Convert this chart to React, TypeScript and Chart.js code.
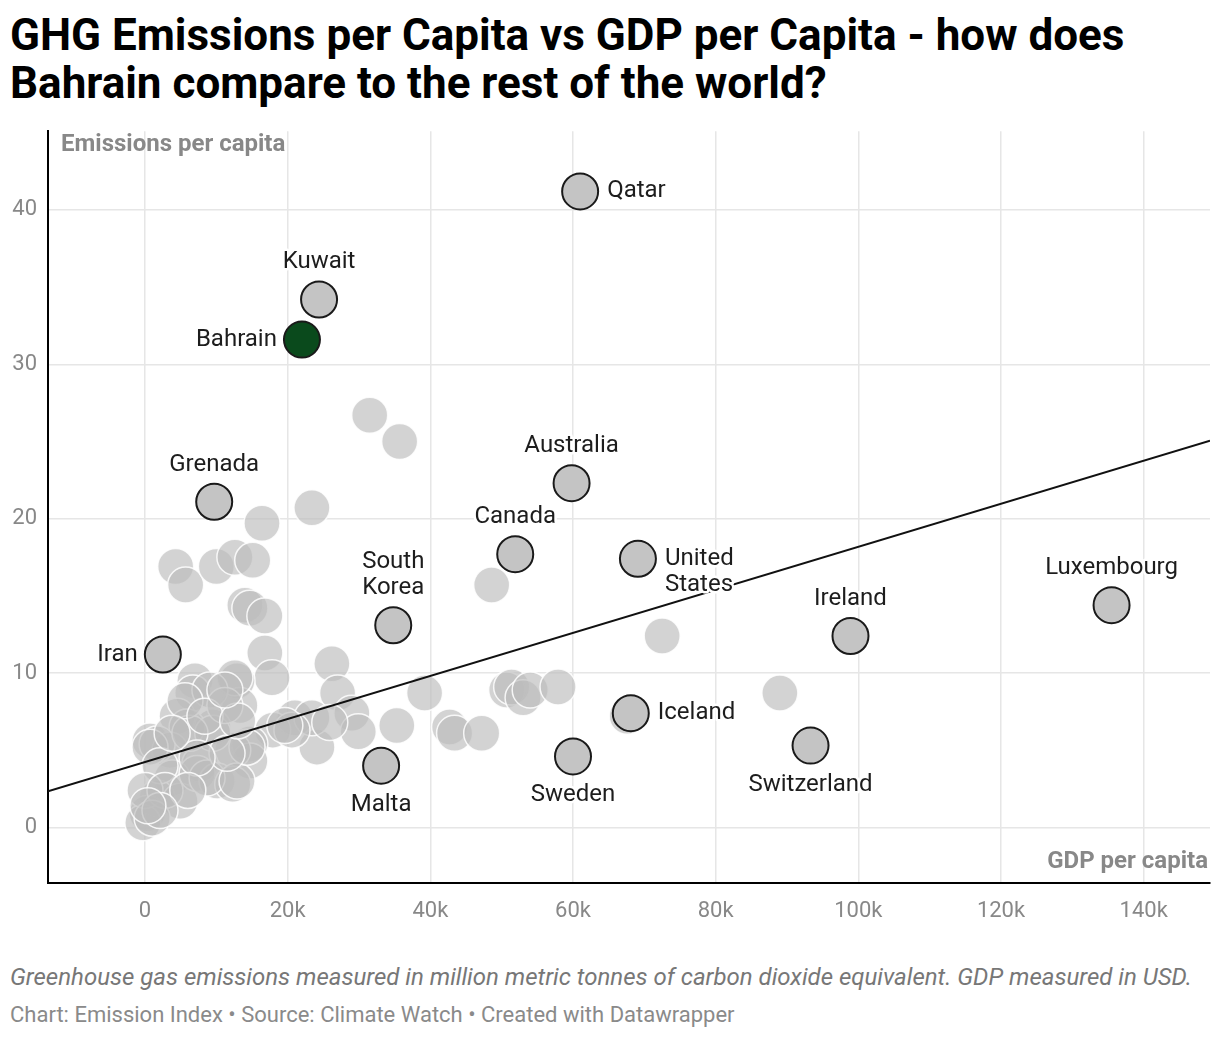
import React, { useEffect, useRef } from 'react'
import { Chart, registerables } from 'chart.js'

Chart.register(...registerables)

// highlighted countries (GDP per capita in USD, emissions per capita)
const highlightNames = ['Qatar', 'Kuwait', 'Grenada', 'Australia', 'Canada', 'United\nStates', 'South\nKorea', 'Iran', 'Ireland', 'Luxembourg', 'Iceland', 'Switzerland', 'Sweden', 'Malta']
const highlightGdp = [61000, 24400, 9700, 59800, 51900, 69100, 34800, 2500, 98900, 135500, 68100, 93300, 60000, 33100]
const highlightEmissions = [41.2, 34.2, 21.1, 22.3, 17.7, 17.4, 13.1, 11.2, 12.4, 14.4, 7.4, 5.3, 4.6, 4.0]
const highlightSide = ['right', 'top', 'top', 'top', 'top', 'right', 'top', 'left', 'top', 'top', 'right', 'bottom', 'bottom', 'bottom']

const bahrainGdp = [22000]
const bahrainEmissions = [31.6]

// everyone else
const otherGdp = [
	31500, 35700, 23400, 16400, 4300, 5700, 10000, 12600, 15100, 14000, 14700, 16800, 16800, 17800, 26200, 27000,
	29000, 29900, 35300, 39200, 42700, 43400, 47200, 48600, 50700, 51400, 53000, 54000, 57900, 67600, 72500, 89000,
	24100, 21000, 23400, 17900, 20600, 12900, 13300, 14700, 14700, 7000, 12600, 6700, 9100, 4500, 9500, 5900,
	700, 3500, 1700, 12300, 7700, 3800, 1700, 300, -300, 4900, 7300, 10100, 12300, 700, 8700, 12900,
	14300, 9500, 6300, 11500, 7300, 5600, 11200, 2100, 0, 2800, 1000, 6000, 8400, 3800, 13000, 19600,
	25900, 11200, 2100, 400,
]
const otherEmissions = [
	26.7, 25.0, 20.7, 19.7, 16.9, 15.7, 16.9, 17.5, 17.3, 14.4, 14.2, 13.7, 11.3, 9.7, 10.6, 8.7,
	7.4, 6.2, 6.6, 8.7, 6.5, 6.1, 6.1, 15.7, 8.9, 9.1, 8.4, 8.9, 9.1, 7.2, 12.4, 8.7,
	5.2, 7.1, 7.1, 6.3, 6.3, 9.5, 7.9, 5.4, 4.3, 9.5, 9.7, 8.7, 8.9, 7.2, 6.5, 6.5,
	5.6, 5.0, 5.4, 5.0, 4.1, 3.2, 1.9, 0.9, 0.3, 1.7, 3.5, 3.0, 2.8, 5.2, 3.2, 3.0,
	5.2, 6.1, 6.1, 4.8, 4.5, 8.2, 7.9, 4.0, 2.4, 2.4, 0.6, 2.4, 7.2, 6.1, 6.9, 6.6,
	6.8, 8.9, 1.1, 1.4,
]

// trend line
const trendIntercept = 4.23
const trendSlope = 0.1395 / 1000

const xMin = -13600
const xMax = 149300
const xTicks = [0, 20000, 40000, 60000, 80000, 100000, 120000, 140000]
const yMin = -3.6
const yMax = 45.1
const yTicks = [0, 10, 20, 30, 40]

const font = 'Roboto, "Noto Sans", sans-serif'

const labelPlugin = {
	id: 'countryLabels',
	afterDatasetsDraw(chart: Chart) {
		const ctx = chart.ctx
		const drawLabel = (text: string, x: number, y: number, side: string) => {
			const lines = text.split('\n')
			const lh = 26
			ctx.save()
			ctx.font = '24px ' + font
			ctx.lineJoin = 'round'
			ctx.lineWidth = 5
			ctx.strokeStyle = '#fff'
			ctx.fillStyle = '#1d1d1d'
			ctx.textBaseline = 'middle'
			lines.forEach((line, i) => {
				let tx = x
				let ty = y
				if (side === 'right') {
					ctx.textAlign = 'left'
					tx = x + 27
					ty = y + i * lh
				} else if (side === 'left') {
					ctx.textAlign = 'right'
					tx = x - 25
					ty = y + i * lh
				} else if (side === 'top') {
					ctx.textAlign = 'center'
					ty = y - 37 - (lines.length - 1 - i) * lh
				} else {
					ctx.textAlign = 'center'
					ty = y + 39 + i * lh
				}
				ctx.strokeText(line, tx, ty)
				ctx.fillText(line, tx, ty)
			})
			ctx.restore()
		}
		chart.getDatasetMeta(2).data.forEach((pt, i) => {
			drawLabel(highlightNames[i], pt.x, pt.y, highlightSide[i])
		})
		chart.getDatasetMeta(3).data.forEach((pt) => {
			drawLabel('Bahrain', pt.x, pt.y, 'left')
		})
	},
}

function ScatterChart() {
	const refContainer = useRef<HTMLCanvasElement>(null)

	useEffect(() => {
		let chart: Chart
		if (refContainer.current) {
			chart = new Chart(refContainer.current, {
				type: 'scatter',
				data: {
					datasets: [
						{
							data: otherGdp.map((x, i) => ({ x, y: otherEmissions[i] })),
							backgroundColor: 'rgba(188,188,188,0.66)',
							borderColor: 'rgba(255,255,255,0.85)',
							borderWidth: 1.5,
							pointRadius: 18,
							order: 3,
						},
						{
							type: 'line',
							data: [xMin, xMax].map((x) => ({ x, y: trendIntercept + trendSlope * x })),
							borderColor: '#111',
							borderWidth: 2,
							pointRadius: 0,
							showLine: true,
							order: 2,
						},
						{
							data: highlightGdp.map((x, i) => ({ x, y: highlightEmissions[i] })),
							backgroundColor: '#c4c4c4',
							borderColor: '#1a1a1a',
							borderWidth: 2,
							pointRadius: 18,
							order: 1,
						},
						{
							data: bahrainGdp.map((x, i) => ({ x, y: bahrainEmissions[i] })),
							backgroundColor: '#0a4a1c',
							borderColor: '#1a1a1a',
							borderWidth: 2,
							pointRadius: 18,
							order: 0,
						},
					],
				},
				options: {
					animation: false,
					responsive: true,
					maintainAspectRatio: false,
					layout: { padding: { top: 10, right: 0, left: 0, bottom: 0 } },
					plugins: {
						legend: { display: false },
						tooltip: { enabled: false },
					},
					scales: {
						x: {
							type: 'linear',
							min: xMin,
							max: xMax,
							afterBuildTicks: (scale) => {
								scale.ticks = xTicks.map((value) => ({ value }))
							},
							afterFit: (scale) => {
								scale.height = 57
							},
							grid: { color: '#e6e6e6', lineWidth: 1.5, drawTicks: false },
							border: { color: '#000', width: 2 },
							ticks: {
								padding: 15,
								color: '#888',
								font: { family: font, size: 22 },
								callback: (v) => (Number(v) === 0 ? '0' : Number(v) / 1000 + 'k'),
							},
						},
						y: {
							type: 'linear',
							min: yMin,
							max: yMax,
							afterBuildTicks: (scale) => {
								scale.ticks = yTicks.map((value) => ({ value }))
							},
							afterFit: (scale) => {
								scale.width = 48
							},
							grid: { color: '#e6e6e6', lineWidth: 1.5, drawTicks: false },
							border: { color: '#000', width: 2 },
							ticks: {
								padding: 11,
								color: '#888',
								font: { family: font, size: 22 },
							},
						},
					},
				},
				plugins: [labelPlugin],
			})
		}
		return () => chart?.destroy()
	}, [])

	return <canvas aria-label="chart-scatter" ref={refContainer} />
}

export default function App() {
	useEffect(() => {
		document.body.style.margin = '0'
	}, [])

	return (
		<div style={{ position: 'relative', width: 1220, height: 1038, background: '#fff', fontFamily: font, overflow: 'hidden' }}>
			<div style={{ position: 'absolute', left: 10, top: 11, width: 1200, fontSize: 44, fontWeight: 700, lineHeight: '48px', color: '#000' }}>
				GHG Emissions per Capita vs GDP per Capita - how does Bahrain compare to the rest of the world?
			</div>
			<div style={{ position: 'absolute', left: 0, top: 107, width: 1230, height: 833 }}>
				<ScatterChart />
			</div>
			<div style={{ position: 'absolute', left: 61, top: 129, fontSize: 24, lineHeight: '28px', fontWeight: 700, color: '#888' }}>Emissions per capita</div>
			<div style={{ position: 'absolute', right: 12, top: 846, fontSize: 24, lineHeight: '28px', fontWeight: 700, color: '#888' }}>GDP per capita</div>
			<div style={{ position: 'absolute', left: 10, top: 962, fontSize: 24, lineHeight: '30px', fontStyle: 'italic', color: '#777' }}>
				Greenhouse gas emissions measured in million metric tonnes of carbon dioxide equivalent. GDP measured in USD.
			</div>
			<div style={{ position: 'absolute', left: 10, top: 1001, fontSize: 22, lineHeight: '28px', color: '#8a8a8a' }}>
				Chart: Emission Index • Source: Climate Watch • Created with Datawrapper
			</div>
		</div>
	)
}
